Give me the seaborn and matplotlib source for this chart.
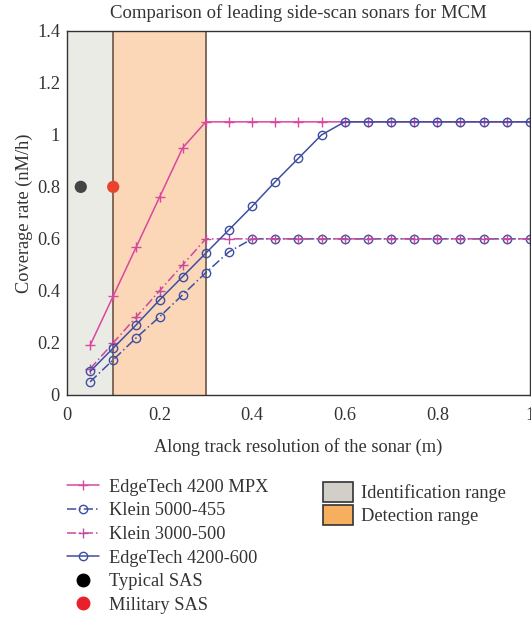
import numpy as np
import pandas as pd
import matplotlib
matplotlib.use("Agg")
import matplotlib.pyplot as plt
import seaborn as sns
from matplotlib.patches import Patch
from matplotlib.lines import Line2D

# ── Data ──────────────────────────────────────────────────────────────────────
res = [0.05, 0.10, 0.15, 0.20, 0.25, 0.30, 0.35, 0.40, 0.45, 0.50, 0.55,
       0.60, 0.65, 0.70, 0.75, 0.80, 0.85, 0.90, 0.95, 1.00]
edgetech_mpx = [0.19, 0.38, 0.57, 0.76, 0.95, 1.05, 1.05, 1.05, 1.05, 1.05,
                1.05, 1.05, 1.05, 1.05, 1.05, 1.05, 1.05, 1.05, 1.05, 1.05]
klein_5000 = [0.05, 0.135, 0.22, 0.30, 0.385, 0.47, 0.55, 0.60, 0.60, 0.60,
              0.60, 0.60, 0.60, 0.60, 0.60, 0.60, 0.60, 0.60, 0.60, 0.60]
klein_3000 = [0.10, 0.20, 0.30, 0.40, 0.50, 0.60, 0.60, 0.60, 0.60, 0.60,
              0.60, 0.60, 0.60, 0.60, 0.60, 0.60, 0.60, 0.60, 0.60, 0.60]
edgetech_600 = [0.09, 0.18, 0.27, 0.365, 0.455, 0.545, 0.635, 0.725, 0.82, 0.91,
                1.00, 1.05, 1.05, 1.05, 1.05, 1.05, 1.05, 1.05, 1.05, 1.05]
sas_names = ["Typical SAS", "Military SAS"]
sas_x = [0.03, 0.10]
sas_y = [0.80, 0.80]
ident_range = (0.0, 0.1)
detect_range = (0.1, 0.3)

PINK = "#d9479e"
MAGENTA = "#c84a9c"
BLUE = "#3e4fa3"
TXT = "#333333"
FS = 13.2

sns.set_style("white")
plt.rcParams["font.family"] = ["Liberation Serif", "DejaVu Serif"]
plt.rcParams["font.size"] = FS

fig = plt.figure(figsize=(5.31, 6.17), dpi=100)
ax = fig.add_axes([0.126, 0.360, 0.872, 0.590])

# ── Shaded ranges ─────────────────────────────────────────────────────────────
ax.axvspan(*ident_range, facecolor="#ebebe6", edgecolor="none", zorder=0)
ax.axvspan(*detect_range, facecolor="#fbd7b8", edgecolor="none", zorder=0)
for xv in (0.1, 0.3):
    ax.axvline(xv, color="#6b5545", lw=1.2, zorder=1)

dashdot = (0, (6, 2, 1, 2))
sns.lineplot(x=res, y=edgetech_mpx, ax=ax, color=PINK, lw=1.1, marker="+",
             markersize=7.5, mew=1.0, mec=PINK, linestyle="-")
sns.lineplot(x=res, y=klein_5000, ax=ax, color=BLUE, lw=1.1, marker="o",
             markersize=6, mfc="none", mec=BLUE, mew=1.0, linestyle=dashdot)
sns.lineplot(x=res, y=klein_3000, ax=ax, color=MAGENTA, lw=1.1, marker="+",
             markersize=7.5, mew=1.0, mec=MAGENTA, linestyle=dashdot)
sns.lineplot(x=res, y=edgetech_600, ax=ax, color=BLUE, lw=1.1, marker="o",
             markersize=6, mfc="none", mec=BLUE, mew=1.0, linestyle="-")
sns.scatterplot(x=sas_x[:1], y=sas_y[:1], ax=ax, color="#444444", s=78,
                edgecolor="none", zorder=5)
sns.scatterplot(x=sas_x[1:], y=sas_y[1:], ax=ax, color="#e8432e", s=78,
                edgecolor="none", zorder=5)

ax.set_xlim(0, 1)
ax.set_ylim(0, 1.4)
ax.set_xticks([0, 0.2, 0.4, 0.6, 0.8, 1.0])
ax.set_xticklabels(["0", "0.2", "0.4", "0.6", "0.8", "1"])
ax.set_yticks([0, 0.2, 0.4, 0.6, 0.8, 1.0, 1.2, 1.4])
ax.set_yticklabels(["0", "0.2", "0.4", "0.6", "0.8", "1", "1.2", "1.4"])
ax.tick_params(direction="in", length=4, width=1.2, color="#111111",
               labelsize=FS, labelcolor=TXT)
ax.tick_params(axis="x", pad=9)
ax.tick_params(axis="y", pad=5)
for sp in ax.spines.values():
    sp.set_color(TXT)
    sp.set_linewidth(1.0)
ax.set_xlabel("Along track resolution of the sonar (m)", fontsize=FS,
              color=TXT, labelpad=10)
ax.set_ylabel("Coverage rate (nM/h)", fontsize=FS, color=TXT, labelpad=3)
ax.set_title("Comparison of leading side-scan sonars for MCM", fontsize=FS + 0.3,
             color=TXT, pad=9)

# ── Legends ───────────────────────────────────────────────────────────────────
line_handles = [
    Line2D([], [], color=PINK, lw=1.1, marker="+", markersize=7.5),
    Line2D([], [], color=BLUE, lw=1.1, marker="o", markersize=6, mfc="none",
           linestyle=dashdot),
    Line2D([], [], color=MAGENTA, lw=1.1, marker="+", markersize=7.5,
           linestyle=dashdot),
    Line2D([], [], color=BLUE, lw=1.1, marker="o", markersize=6, mfc="none"),
    Line2D([], [], color="black", lw=0, marker="o", markersize=9),
    Line2D([], [], color="#e8202a", lw=0, marker="o", markersize=9),
]
line_labels = ["EdgeTech 4200 MPX", "Klein 5000-455", "Klein 3000-500",
               "EdgeTech 4200-600"] + sas_names
fig.legend(line_handles, line_labels, loc="upper left",
           bbox_to_anchor=(0.112, 0.236), frameon=False, fontsize=FS,
           handlelength=1.75, labelspacing=0.36, handletextpad=0.55,
           borderaxespad=0, labelcolor=TXT)
patch_handles = [
    Patch(facecolor="#d2cfc9", edgecolor=TXT, lw=1.2),
    Patch(facecolor="#f6ae5f", edgecolor=TXT, lw=1.2),
]
fig.legend(patch_handles, ["Identification range", "Detection range"],
           loc="upper left", bbox_to_anchor=(0.595, 0.231), frameon=False,
           fontsize=FS, handlelength=1.6, handleheight=1.35,
           labelspacing=0.12, handletextpad=0.45, borderaxespad=0,
           labelcolor=TXT)

fig.savefig("out.png", dpi=100)
